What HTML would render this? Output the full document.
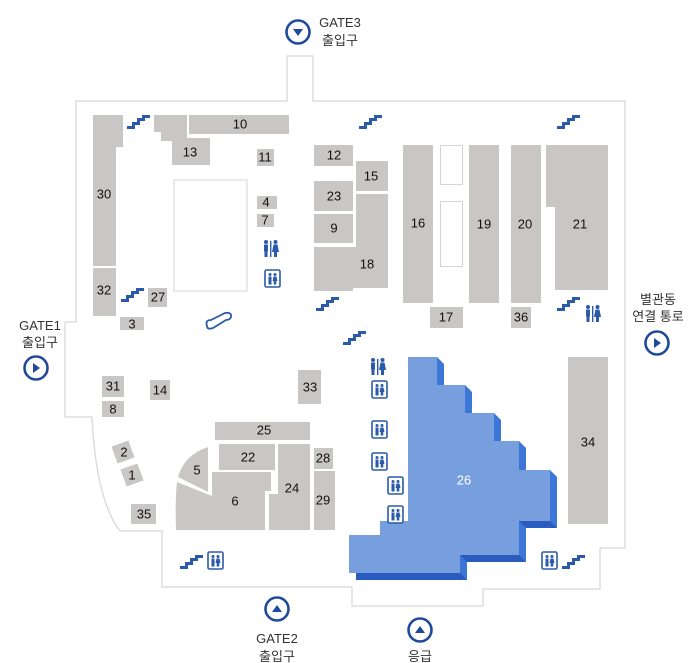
<!DOCTYPE html>
<html><head><meta charset="utf-8"><style>
html,body{margin:0;padding:0;background:#fff;}
svg{display:block;}
text{font-family:"Liberation Sans","Noto Sans CJK KR",sans-serif;}
.n{font-size:13px;fill:#111;text-anchor:middle;dominant-baseline:central;}
.g{font-size:13px;fill:#333;text-anchor:middle;}
</style></head><body>
<svg width="694" height="663" viewBox="0 0 694 663" xmlns="http://www.w3.org/2000/svg">
<defs>
<g id="st"><path d="M0,12.5 L6.5,12.5 L6.5,8.5 L11.5,8.5 L11.5,4.5 L16.5,4.5 L16.5,1.5 L23,1.5" fill="none" stroke="#2a5aa8" stroke-width="3"/></g>
<g id="tl" fill="#2a5aa8">
<circle cx="3" cy="2" r="2"/><rect x="1" y="4.5" width="4" height="7"/><rect x="1.5" y="11" width="3" height="6"/>
<rect x="7" y="1" width="1.4" height="16"/>
<circle cx="12.5" cy="2" r="2"/><path d="M10.5,4.5 L14.5,4.5 L16,12 L9,12 Z"/><rect x="11" y="11" width="3" height="6"/>
</g>
<g id="el">
<rect x="1" y="1" width="15" height="17" rx="1.5" fill="#fff" stroke="#2a5aa8" stroke-width="1.6"/>
<g fill="#2a5aa8"><circle cx="6" cy="5.5" r="1.5"/><rect x="4.5" y="7.5" width="3" height="8"/><circle cx="11" cy="5.5" r="1.5"/><path d="M9.5,7.5 L12.5,7.5 L13.5,12 L8.5,12 Z"/><rect x="9.7" y="12" width="2.6" height="3.5"/></g>
</g>
</defs>

<!-- outline -->
<path d="M76,101 L287,101 L287,56 L313,56 L313,101 L625,101 L625,548 L600,548 L600,589 L483,589 L483,606 L352,606 L352,587 L162,587 L162,531 L120,531 Q96,500 92,417 L65,417 L65,322 L76,322 Z" fill="#fff" stroke="#d8d8d8" stroke-width="1.3"/>

<g fill="#c8c7c6">
<path d="M93,115 L123,115 L123,147 L116,147 L116,266 L93,266 Z"/>
<rect x="93" y="268" width="23" height="48"/>
<rect x="120" y="317" width="24" height="13"/>
<rect x="148" y="288" width="19" height="19"/>
<path d="M154,115 L187,115 L187,138 L210,138 L210,165 L172,165 L172,141 L161,141 L161,132 L154,132 Z"/>
<rect x="189" y="115" width="100" height="19"/>
<rect x="257" y="149" width="17" height="17"/>
<rect x="257" y="196" width="20" height="13"/>
<rect x="257" y="214" width="17" height="13"/>
<rect x="314" y="145" width="39" height="21"/>
<rect x="314" y="181" width="39" height="30"/>
<rect x="314" y="214" width="39" height="29"/>
<path d="M314,247 L356,247 L356,194 L388,194 L388,288 L353,288 L353,291 L314,291 Z"/>
<rect x="356" y="161" width="32" height="30"/>
<rect x="403" y="145" width="30" height="158"/>
<rect x="469" y="145" width="30" height="158"/>
<rect x="511" y="145" width="30" height="158"/>
<path d="M546,145 L608,145 L608,290 L555,290 L555,207 L546,207 Z"/>
<rect x="430" y="307" width="33" height="21"/>
<rect x="511" y="307" width="20" height="21"/>
<rect x="102" y="376" width="22" height="21"/>
<rect x="102" y="401" width="22" height="16"/>
<rect x="150" y="380" width="20" height="20"/>
<rect x="298" y="370" width="23" height="34"/>
<rect x="215" y="422" width="95" height="18"/>
<rect x="219" y="444" width="56" height="26"/>
<path d="M208,447 L208,492 L178,477 Q184,455 208,447 Z"/>
<path d="M177,482 L212,496 L212,472 L271,472 L271,491 L265,491 L265,530 L176,530 Q175,500 177,482 Z"/>
<path d="M278,444 L310,444 L310,530 L269,530 L269,494 L278,494 Z"/>
<rect x="314" y="448" width="19" height="21"/>
<rect x="314" y="471" width="21" height="59"/>
<rect x="131" y="504" width="25" height="20"/>
<rect x="114" y="443" width="18" height="18" transform="rotate(-20 123 452)"/>
<rect x="123" y="466" width="18" height="18" transform="rotate(-20 132 475)"/>
<rect x="568" y="357" width="40" height="167"/>
</g>
<g fill="none" stroke="#d4d4d4" stroke-width="1">
<rect x="174" y="180" width="73" height="111"/>
<rect x="440.5" y="145.5" width="22" height="39"/>
<rect x="440.5" y="201.5" width="22" height="65"/>
</g>

<!-- 26 -->
<path transform="translate(7,7)" d="M408,357 L437,357 L437,385 L465,385 L465,413 L494,413 L494,441 L519,441 L519,470 L550,470 L550,521 L519,521 L519,555 L460,555 L460,573 L349,573 L349,535 L380,535 L380,521 L408,521 Z" fill="#2a5cbf"/>
<path d="M437,357 L444,364 L444,385 L437,385 Z M465,385 L472,392 L472,413 L465,413 Z M494,413 L501,420 L501,441 L494,441 Z M519,441 L526,448 L526,470 L519,470 Z M550,470 L557,477 L557,528 L550,521 Z M519,521 L526,528 L526,562 L519,555 Z M460,555 L467,562 L467,580 L460,573 Z" fill="#3c76d6"/>
<path d="M408,357 L437,357 L437,385 L465,385 L465,413 L494,413 L494,441 L519,441 L519,470 L550,470 L550,521 L519,521 L519,555 L460,555 L460,573 L349,573 L349,535 L380,535 L380,521 L408,521 Z" fill="#789fdd"/>

<!-- labels -->
<g class="n">
<text x="104" y="194">30</text><text x="104" y="290">32</text><text x="132" y="324">3</text><text x="158" y="297">27</text>
<text x="190" y="152">13</text><text x="240" y="124">10</text><text x="265" y="157">11</text><text x="266" y="202">4</text><text x="265" y="220">7</text>
<text x="334" y="155">12</text><text x="334" y="196">23</text><text x="334" y="228">9</text><text x="367" y="264">18</text><text x="371" y="176">15</text>
<text x="418" y="223">16</text><text x="484" y="224">19</text><text x="525" y="224">20</text><text x="580" y="224">21</text>
<text x="446" y="317">17</text><text x="521" y="317">36</text>
<text x="113" y="386">31</text><text x="113" y="409">8</text><text x="160" y="390">14</text><text x="310" y="387">33</text>
<text x="264" y="430">25</text><text x="248" y="457">22</text><text x="197" y="470">5</text><text x="235" y="501">6</text><text x="292" y="488">24</text>
<text x="323" y="458">28</text><text x="323" y="500">29</text><text x="144" y="514">35</text><text x="124" y="452">2</text><text x="132" y="475">1</text>
<text x="588" y="442">34</text>
<text x="464" y="480" style="fill:#fff">26</text>
</g>

<!-- icons -->
<use href="#st" x="127" y="115"/><use href="#st" x="121" y="288"/><use href="#st" x="359" y="115"/><use href="#st" x="557" y="115"/>
<use href="#st" x="316" y="297"/><use href="#st" x="557" y="297"/><use href="#st" x="343" y="331"/>
<use href="#st" x="180" y="555"/><use href="#st" x="562" y="555"/>
<use href="#tl" x="263" y="240"/><use href="#tl" x="370" y="358"/><use href="#tl" x="585" y="305"/>
<use href="#el" x="264" y="269"/><use href="#el" x="371" y="380"/><use href="#el" x="371" y="420"/><use href="#el" x="371" y="452"/>
<use href="#el" x="387" y="476"/><use href="#el" x="387" y="505"/><use href="#el" x="541" y="551"/><use href="#el" x="207" y="551"/>
<path d="M207,326 Q205,320 211,320 L225,313 Q232,312 231,317 Q230,320 226,320 L213,328 Q207,330 207,326 Z" fill="none" stroke="#2a5aa8" stroke-width="1.8"/>

<!-- gates -->
<g fill="none" stroke="#1f4a9c" stroke-width="2.6">
<circle cx="298" cy="32" r="11.5"/><circle cx="36" cy="368" r="11.5"/><circle cx="657" cy="343" r="11.5"/>
<circle cx="277" cy="609" r="11.5"/><circle cx="420" cy="630" r="11.5"/>
</g>
<g fill="#1f4a9c">
<path d="M293,29 L303,29 L298,36 Z"/><path d="M33,363 L40,368 L33,373 Z"/><path d="M654,338 L661,343 L654,348 Z"/>
<path d="M272,612 L282,612 L277,605 Z"/><path d="M415,633 L425,633 L420,626 Z"/>
</g>
<g class="g">
<text x="340" y="27">GATE3</text><text x="340" y="45">출입구</text>
<text x="40" y="330">GATE1</text><text x="40" y="347">출입구</text>
<text x="658" y="304">별관동</text><text x="658" y="321">연결 통로</text>
<text x="277" y="643">GATE2</text><text x="277" y="661">출입구</text>
<text x="420" y="661">응급</text>
</g>
</svg>
</body></html>
